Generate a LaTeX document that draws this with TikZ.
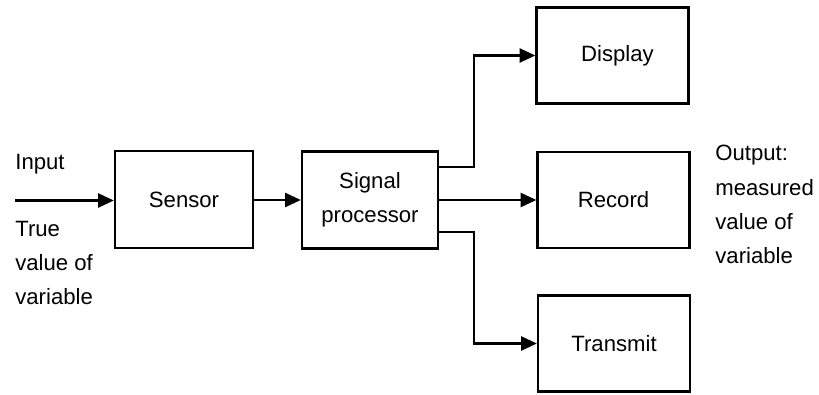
\documentclass[tikz,border=0pt]{standalone}
\usepackage{fontspec}
\setmainfont{Liberation Sans}
\usetikzlibrary{positioning, calc, arrows.meta}

\tikzset{
  block/.style={draw, line width=1.3pt, minimum width=3.04cm, minimum height=1.92cm, align=center},
  arr/.style={-{Triangle[length=9pt,width=8pt]}, line width=1.3pt},
  txt/.style={inner sep=0pt, align=left}
}

\begin{document}
\begin{tikzpicture}[font=\fontsize{12.6}{19.5}\selectfont]
               \useasboundingbox (0,0) rectangle (16.38,7.88);
               % blocks
               \node[block, minimum width=2.76cm, minimum height=1.94cm] (sensor) at (3.68,3.89) {Sensor};
               \node[block, minimum width=2.72cm, minimum height=1.94cm] (proc) at (7.40,3.88) {Signal\\processor};
               \node[block] (display) at (12.25,6.77) {\hspace{2mm}Display};
               \node[block] (record) at (12.27,3.88) {Record};
               \node[block] (transmit) at (12.28,1.01) {Transmit};
               % labels
               \coordinate (in) at (0.3,3.87);
               \node[txt, anchor=west] (input) at (0.3,4.6) {Input};
               \node[txt, anchor=north west] (truev) at (0.3,3.47) {True\\value of\\variable};
               \node[txt, anchor=north west] (output) at (14.3,4.98) {Output:\\measured\\value of\\variable};
               % connectors
               \draw[arr] (in) -- (sensor.west |- in);
               \draw[arr] (sensor.east |- proc) -- (proc.west);
               \draw[arr] (proc.east) -- (record.west |- proc.east);
               \draw[arr] ([yshift=0.66cm]proc.east) -- ++(0.7,0) |- (display.west);
               \draw[arr] ([yshift=-0.64cm]proc.east) -- ++(0.7,0) |- (transmit.west);
\end{tikzpicture}
\end{document}
